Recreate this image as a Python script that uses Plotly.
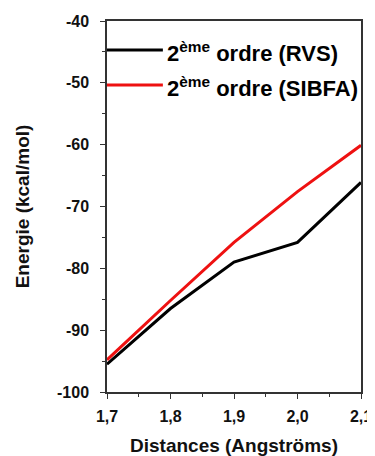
import plotly.graph_objects as go

distances = [1.7, 1.8, 1.9, 2.0, 2.1]
rvs = [-95.5, -86.5, -79.0, -75.8, -66.1]
sibfa = [-94.8, -85.2, -75.8, -67.6, -60.1]
names = ["2<sup>ème</sup> ordre (RVS)", "2<sup>ème</sup> ordre (SIBFA)"]
colors = ["black", "#ee1111"]
x_ticks = [1.7, 1.8, 1.9, 2.0, 2.1]
x_tick_labels = ["1,7", "1,8", "1,9", "2,0", "2,1"]
y_ticks = [-100, -90, -80, -70, -60, -50, -40]
y_tick_labels = ["-100", "-90", "-80", "-70", "-60", "-50", "-40"]

fig = go.Figure()
for vals, name, col in zip([rvs, sibfa], names, colors):
    fig.add_trace(go.Scatter(x=distances, y=vals, mode="lines", name=name,
                             line=dict(color=col, width=3), showlegend=False))

font = "Liberation Sans, Arial, sans-serif"

# manual legend (line sample + text) in paper coordinates
leg_y = [0.922, 0.8275]
for yy, name, col in zip(leg_y, names, colors):
    fig.add_shape(type="line", xref="paper", yref="paper", x0=0.0, x1=0.22, y0=yy, y1=yy,
                  line=dict(color=col, width=3))
    fig.add_annotation(xref="paper", yref="paper", x=0.228, y=yy - 0.006, xanchor="left", yanchor="middle",
                       text=name, showarrow=False,
                       font=dict(size=22, family=font, weight="bold", color="black"))

# page body adds an 8px margin: figure is 367x448 so the plot sits where the reference has it
fig.update_layout(
    width=367, height=448,
    margin=dict(l=99, r=14, t=13, b=64, autoexpand=False),
    plot_bgcolor="white", paper_bgcolor="white",
    font=dict(family=font, color="#111"),
    showlegend=False,
    xaxis=dict(range=[1.7, 2.1], tickvals=x_ticks, ticktext=x_tick_labels, automargin=False,
               ticks="outside", ticklen=5, tickwidth=1.3, tickcolor="#333",
               showline=True, linecolor="#333", linewidth=1.5, mirror=True,
               showgrid=False, zeroline=False, ticklabelstandoff=4,
               tickfont=dict(size=16, family=font, weight="bold", color="#111"),
               minor=dict(ticks="outside", ticklen=3, dtick=0.05, tickcolor="#333", showgrid=False),
               title=dict(text="Distances (Angströms)", font=dict(size=19, family=font, weight="bold", color="#111"), standoff=16)),
    yaxis=dict(range=[-100, -40], tickvals=y_ticks, ticktext=y_tick_labels, automargin=False,
               ticks="outside", ticklen=5, tickwidth=1.3, tickcolor="#333",
               showline=True, linecolor="#333", linewidth=1.5, mirror=True,
               showgrid=False, zeroline=False, ticklabelstandoff=8,
               tickfont=dict(size=16, family=font, weight="bold", color="#111"),
               minor=dict(ticks="outside", ticklen=3, dtick=5, tickcolor="#333", showgrid=False),
               title=dict(text="Energie (kcal/mol)", font=dict(size=19, family=font, weight="bold", color="#111"), standoff=22)),
)
fig.write_html("out.html")
